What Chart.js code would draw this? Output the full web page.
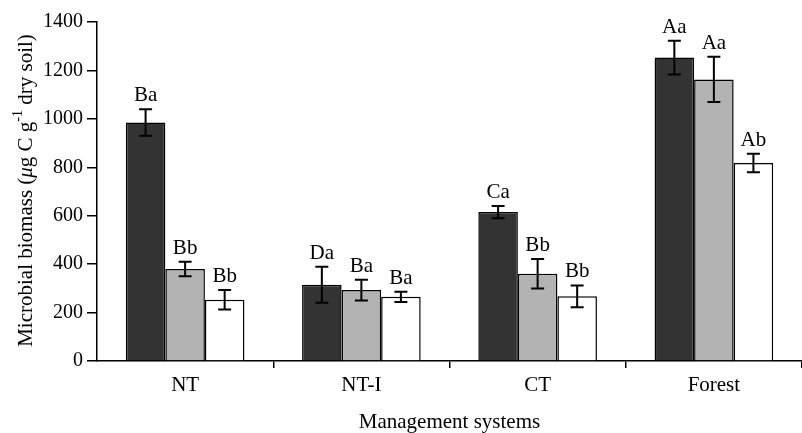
<!DOCTYPE html>
<html>
<head>
<meta charset="utf-8">
<script src="https://cdn.jsdelivr.net/npm/chart.js@4.4.0/dist/chart.umd.min.js"></script>
<style>
  html, body { margin: 0; padding: 0; background: #fff; overflow: hidden; }
  #wrap { width: 802px; height: 433px; position: relative; }
</style>
</head>
<body>
<div id="wrap"><canvas id="c" width="802" height="433"></canvas></div>
<script>
// ---- data ----
const categories = ['NT', 'NT-I', 'CT', 'Forest'];
const yTicks = [0, 200, 400, 600, 800, 1000, 1200, 1400];

const seriesDark  = [985, 315, 615, 1253];
const seriesGray  = [380, 293, 360, 1163];
const seriesWhite = [253, 265, 267, 818];

const errDark  = [55, 74, 25, 70];
const errGray  = [30, 43, 61, 93];
const errWhite = [40, 21, 45, 38];

const lettersDark  = ['Ba', 'Da', 'Ca', 'Aa'];
const lettersGray  = ['Bb', 'Ba', 'Bb', 'Aa'];
const lettersWhite = ['Bb', 'Ba', 'Bb', 'Ab'];

const xTitle = 'Management systems';
const yTitleParts = [
  { t: 'Microbial biomass (', style: '' },
  { t: '\u03BC', style: 'italic ' },
  { t: 'g C g', style: '' },
  { t: '-1', style: '', sup: true },
  { t: ' dry soil)', style: '' }
];

const FONT = "'Liberation Serif', 'Times New Roman', serif";
Chart.defaults.font.family = FONT;
Chart.defaults.font.size = 20;
Chart.defaults.color = '#000';

const errors = [errDark, errGray, errWhite];
const letters = [lettersDark, lettersGray, lettersWhite];

const errorBarPlugin = {
  id: 'errorBars',
  afterDatasetsDraw(chart) {
    const ctx = chart.ctx;
    const ys = chart.scales.y;
    ctx.save();
    chart.data.datasets.forEach((ds, di) => {
      const meta = chart.getDatasetMeta(di);
      meta.data.forEach((bar, i) => {
        const v = ds.data[i];
        const e = errors[di][i];
        const yt = ys.getPixelForValue(v + e);
        const yb = ys.getPixelForValue(v - e);
        const x = bar.x;
        ctx.strokeStyle = '#000';
        ctx.lineWidth = 2;
        ctx.beginPath();
        ctx.moveTo(x, yt); ctx.lineTo(x, yb);
        ctx.moveTo(x - 6.5, yt); ctx.lineTo(x + 6.5, yt);
        ctx.moveTo(x - 6.5, yb); ctx.lineTo(x + 6.5, yb);
        ctx.stroke();
        ctx.fillStyle = '#000';
        ctx.font = '21px ' + FONT;
        ctx.textAlign = 'center';
        ctx.textBaseline = 'alphabetic';
        ctx.fillText(letters[di][i], x, yt - 8);
      });
    });
    ctx.restore();
  }
};

const yTitlePlugin = {
  id: 'yTitle',
  afterDraw(chart) {
    const ctx = chart.ctx;
    const area = chart.chartArea;
    const cy = (area.top + area.bottom) / 2 - 1;
    ctx.save();
    ctx.translate(32, cy);
    ctx.rotate(-Math.PI / 2);
    ctx.fillStyle = '#000';
    ctx.textBaseline = 'alphabetic';
    ctx.textAlign = 'left';
    let total = 0;
    const widths = yTitleParts.map(p => {
      ctx.font = p.style + (p.sup ? '14px ' : '21px ') + FONT;
      const w = ctx.measureText(p.t).width;
      total += w;
      return w;
    });
    let x = -total / 2;
    yTitleParts.forEach((p, k) => {
      ctx.font = p.style + (p.sup ? '14px ' : '21px ') + FONT;
      ctx.fillText(p.t, x, p.sup ? -10 : 0);
      x += widths[k];
    });
    ctx.restore();
  }
};

new Chart(document.getElementById('c'), {
  type: 'bar',
  data: {
    labels: categories,
    datasets: [
      { label: 'Series 1', data: seriesDark,  backgroundColor: '#333333', borderColor: '#000', borderWidth: 1.5 },
      { label: 'Series 2', data: seriesGray,  backgroundColor: '#b3b3b3', borderColor: '#000', borderWidth: 1.5 },
      { label: 'Series 3', data: seriesWhite, backgroundColor: '#ffffff', borderColor: '#000', borderWidth: 1.5 }
    ]
  },
  options: {
    responsive: false,
    animation: false,
    layout: { padding: { top: 22, right: 0, left: 0, bottom: 0 } },
    datasets: { bar: { categoryPercentage: 0.673, barPercentage: 1.0 } },
    plugins: {
      legend: { display: false },
      tooltip: { enabled: false }
    },
    scales: {
      x: {
        afterFit(scale) { scale.height = 72; },
        grid: {
          drawOnChartArea: false,
          drawTicks: true,
          tickLength: 7,
          lineWidth: 1.5,
          color: (c) => (c.index === 0 || c.index === categories.length) ? 'rgba(0,0,0,0)' : '#000'
        },
        border: { display: true, color: '#000', width: 1.5 },
        ticks: { padding: 5, font: { size: 21 }, color: '#000' },
        title: { display: true, text: xTitle, font: { size: 21 }, color: '#000', padding: { top: 0, bottom: -2 } }
      },
      y: {
        min: 0,
        max: 1400,
        afterFit(scale) { scale.width = 97; },
        afterBuildTicks(scale) { scale.ticks = yTicks.map(v => ({ value: v })); },
        grid: { drawOnChartArea: false, drawTicks: true, tickLength: 10, lineWidth: 1.5, color: '#000' },
        border: { display: true, color: '#000', width: 1.5 },
        ticks: { padding: 4, font: { size: 20 }, color: '#000', callback: (v) => String(v) }
      }
    }
  },
  plugins: [errorBarPlugin, yTitlePlugin]
});
</script>
</body>
</html>
